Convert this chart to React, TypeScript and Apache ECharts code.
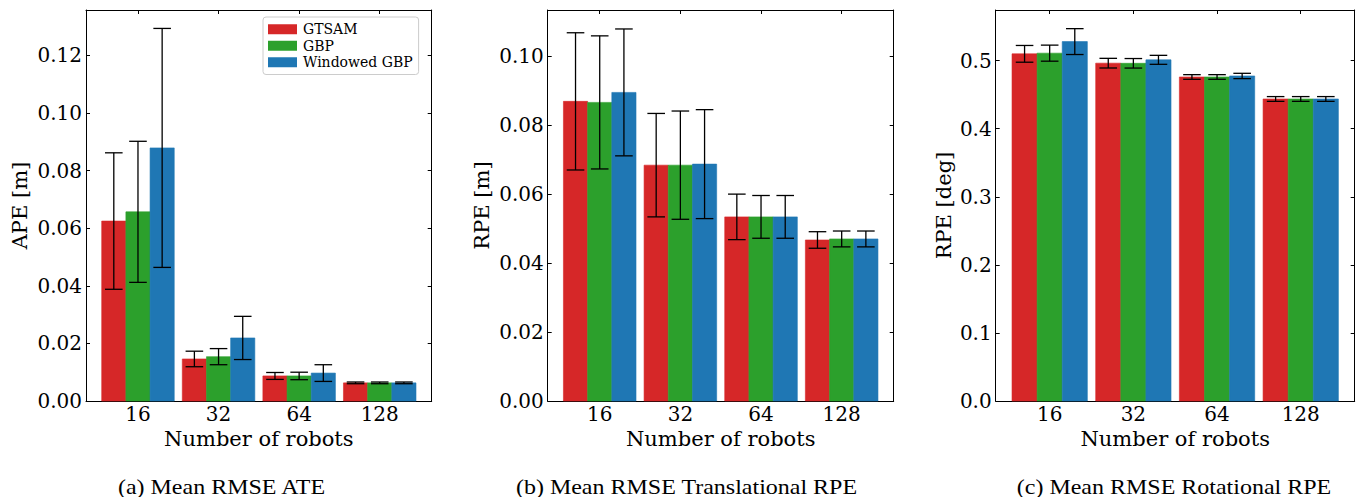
import React, { useEffect, useRef } from "react";
import * as echarts from "echarts";

// ---------- data ----------
const categories = ["16", "32", "64", "128"];
const methods = ["GTSAM", "GBP", "Windowed GBP"];
const colors = ["#d62728", "#2ca02c", "#1f77b4"];

// (a) APE [m]
const apeGtsamMean = [0.0625, 0.0146, 0.0087, 0.0063];
const apeGtsamStd = [0.0237, 0.0027, 0.0012, 0.0003];
const apeGbpMean = [0.0657, 0.0154, 0.0087, 0.0063];
const apeGbpStd = [0.0245, 0.0028, 0.0013, 0.0003];
const apeWgbpMean = [0.0879, 0.0219, 0.0097, 0.0063];
const apeWgbpStd = [0.0415, 0.0075, 0.0029, 0.0003];

// (b) translational RPE [m]
const rpeTGtsamMean = [0.0869, 0.0684, 0.0534, 0.0467];
const rpeTGtsamStd = [0.0199, 0.015, 0.0066, 0.0024];
const rpeTGbpMean = [0.0866, 0.0684, 0.0534, 0.047];
const rpeTGbpStd = [0.0193, 0.0157, 0.0062, 0.0023];
const rpeTWgbpMean = [0.0895, 0.0687, 0.0534, 0.047];
const rpeTWgbpStd = [0.0184, 0.0158, 0.0062, 0.0023];

// (c) rotational RPE [deg]
const rpeRGtsamMean = [0.51, 0.4963, 0.476, 0.4437];
const rpeRGtsamStd = [0.0123, 0.0071, 0.0034, 0.0035];
const rpeRGbpMean = [0.511, 0.4961, 0.476, 0.4437];
const rpeRGbpStd = [0.0118, 0.007, 0.0034, 0.0035];
const rpeRWgbpMean = [0.528, 0.5012, 0.4775, 0.4437];
const rpeRWgbpStd = [0.019, 0.0066, 0.0039, 0.0035];

const apeTicks = [0, 0.02, 0.04, 0.06, 0.08, 0.1, 0.12];
const rpeTTicks = [0, 0.02, 0.04, 0.06, 0.08, 0.1];
const rpeRTicks = [0, 0.1, 0.2, 0.3, 0.4, 0.5];

const yNames = ["APE [m]", "RPE [m]", "RPE [deg]"];
const xName = "Number of robots";
const captions = [
  "(a) Mean RMSE ATE",
  "(b) Mean RMSE Translational RPE",
  "(c) Mean RMSE Rotational RPE",
];

// ---------- layout ----------
const SERIF = '"DejaVu Serif", serif';
const panels = [
  {
    means: [apeGtsamMean, apeGbpMean, apeWgbpMean],
    stds: [apeGtsamStd, apeGbpStd, apeWgbpStd],
    ticks: apeTicks,
    decimals: 2,
    yMax: 0.1358,
    left: 86,
    width: 345.7,
    nameGap: 55.5,
    capX: 221.5,
  },
  {
    means: [rpeTGtsamMean, rpeTGbpMean, rpeTWgbpMean],
    stds: [rpeTGtsamStd, rpeTGbpStd, rpeTWgbpStd],
    ticks: rpeTTicks,
    decimals: 2,
    yMax: 0.1134,
    left: 547.7,
    width: 346,
    nameGap: 55,
    capX: 686.5,
  },
  {
    means: [rpeRGtsamMean, rpeRGbpMean, rpeRWgbpMean],
    stds: [rpeRGtsamStd, rpeRGbpStd, rpeRWgbpStd],
    ticks: rpeRTicks,
    decimals: 1,
    yMax: 0.5744,
    left: 995.7,
    width: 359,
    nameGap: 41,
    capX: 1174,
  },
];

const X_MIN = -0.645;
const X_MAX = 3.645;
const BAR_W = 0.3;
const TOP = 10;
const HEIGHT = 391;

export default function App() {
  const ref = useRef<HTMLDivElement>(null);

  useEffect(() => {
    if (!ref.current) return;
    const chart = echarts.init(ref.current, undefined, { renderer: "svg" });

    const grid: any[] = [];
    const xAxis: any[] = [];
    const yAxis: any[] = [];
    const series: any[] = [];
    const catIdx = categories.map((_, i) => i);

    panels.forEach((p, pi) => {
      grid.push({ left: p.left, top: TOP, width: p.width, height: HEIGHT, containLabel: false });
      const tickStyle = { show: true, inside: true, length: 4, lineStyle: { color: "#000", width: 1 } };
      const lineStyle = { show: true, onZero: false, lineStyle: { color: "#000", width: 1 } };
      // bottom x
      xAxis.push({
        type: "value",
        gridIndex: pi,
        position: "bottom",
        min: X_MIN,
        max: X_MAX,
        axisLine: lineStyle,
        axisTick: { ...tickStyle, customValues: catIdx },
        axisLabel: {
          customValues: catIdx,
          formatter: (v: number) => categories[Math.round(v)] ?? "",
          color: "#000",
          fontFamily: SERIF,
          fontSize: 20,
          margin: 3,
        },
        splitLine: { show: false },
        name: xName,
        nameLocation: "middle",
        nameGap: 26,
        nameTextStyle: { color: "#000", fontFamily: SERIF, fontSize: 21 },
      });
      // top x
      xAxis.push({
        type: "value",
        gridIndex: pi,
        position: "top",
        min: X_MIN,
        max: X_MAX,
        axisLine: lineStyle,
        axisTick: { ...tickStyle, customValues: catIdx },
        axisLabel: { show: false },
        splitLine: { show: false },
      });
      // left y
      yAxis.push({
        type: "value",
        gridIndex: pi,
        position: "left",
        min: 0,
        max: p.yMax,
        axisLine: lineStyle,
        axisTick: { ...tickStyle, customValues: p.ticks },
        axisLabel: {
          customValues: p.ticks,
          formatter: (v: number) => v.toFixed(p.decimals),
          color: "#000",
          fontFamily: SERIF,
          fontSize: 20,
          margin: 4,
        },
        splitLine: { show: false },
        name: yNames[pi],
        nameLocation: "middle",
        nameGap: p.nameGap,
        nameTextStyle: { color: "#000", fontFamily: SERIF, fontSize: 21 },
      });
      // right y
      yAxis.push({
        type: "value",
        gridIndex: pi,
        position: "right",
        min: 0,
        max: p.yMax,
        axisLine: lineStyle,
        axisTick: { ...tickStyle, customValues: p.ticks },
        axisLabel: { show: false },
        splitLine: { show: false },
      });

      methods.forEach((m, mi) => {
        const offset = (mi - 1) * BAR_W;
        const color = colors[mi];
        series.push({
          type: "custom",
          name: m,
          xAxisIndex: pi * 2,
          yAxisIndex: pi * 2,
          z: 2 + mi,
          itemStyle: { color },
          encode: { x: 0, y: 1 },
          data: categories.map((_, ci) => [ci, p.means[mi][ci], p.stds[mi][ci]]),
          renderItem: (params: any, api: any) => {
            const x = api.value(0) + offset;
            const v = api.value(1);
            const s = api.value(2);
            const tl = api.coord([x - BAR_W / 2, v]);
            const br = api.coord([x + BAR_W / 2, 0]);
            const hi = api.coord([x, v + s]);
            const lo = api.coord([x, v - s]);
            const cap = 8.8;
            const es = { stroke: "#000", lineWidth: 1.3 };
            return {
              type: "group",
              children: [
                {
                  type: "rect",
                  shape: { x: tl[0], y: tl[1], width: br[0] - tl[0], height: br[1] - tl[1] },
                  style: { fill: color, stroke: color, lineWidth: 0.6 },
                },
                { type: "line", shape: { x1: hi[0], y1: hi[1], x2: lo[0], y2: lo[1] }, style: es },
                { type: "line", shape: { x1: hi[0] - cap, y1: hi[1], x2: hi[0] + cap, y2: hi[1] }, style: es },
                { type: "line", shape: { x1: lo[0] - cap, y1: lo[1], x2: lo[0] + cap, y2: lo[1] }, style: es },
              ],
            };
          },
        });
      });
    });

    const graphic = panels.map((p, pi) => ({
      type: "text",
      x: p.capX,
      y: 487,
      scaleX: 1.2,
      style: {
        text: captions[pi],
        fontFamily: '"Liberation Serif", serif',
        fontSize: 20,
        fill: "#000",
        align: "center",
        verticalAlign: "middle",
      },
    }));

    chart.setOption({
      animation: false,
      backgroundColor: "#fff",
      grid,
      xAxis,
      yAxis,
      series,
      graphic,
      legend: {
        orient: "vertical",
        left: 263,
        top: 17,
        padding: [5, 6, 5, 5],
        itemWidth: 29,
        itemHeight: 10,
        itemGap: 2,
        borderColor: "#cccccc",
        borderWidth: 1,
        borderRadius: 3,
        backgroundColor: "rgba(255,255,255,0.8)",
        selectedMode: false,
        textStyle: { fontFamily: SERIF, fontSize: 14, color: "#000", lineHeight: 14.5, padding: [0, 0, 0, 1] },
        data: methods.map((m, i) => ({ name: m, icon: "rect", itemStyle: { color: colors[i] } })),
      },
    });

    return () => chart.dispose();
  }, []);

  return (
    <div
      ref={ref}
      style={{ position: "absolute", left: 0, top: 0, width: 1356, height: 497, background: "#fff" }}
    />
  );
}
